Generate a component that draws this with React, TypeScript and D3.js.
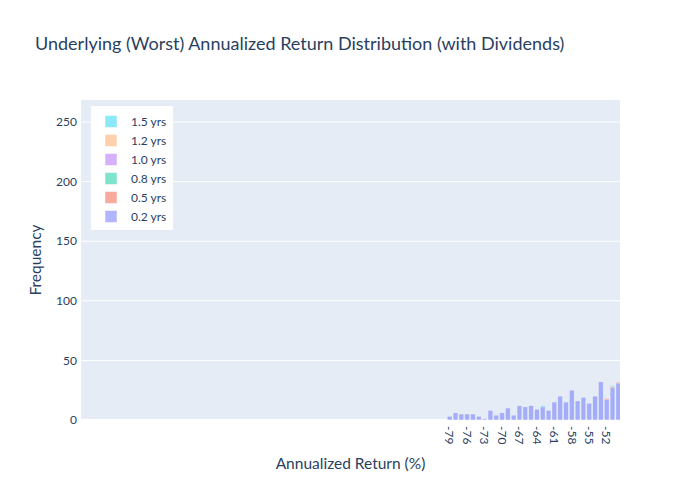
import * as d3 from 'd3';

// histogram bins (centre of each 1-point bin, annualized return %)
const bins = [-79, -78, -77, -76, -75, -74, -73, -72, -71, -70, -69, -68, -67, -66, -65,
  -64, -63, -62, -61, -60, -59, -58, -57, -56, -55, -54, -53, -52, -51, -50];

// counts per bin for each tenor (stacked, 0.2 yrs at the bottom)
const counts02 = [3, 6, 5, 5, 5, 3, 1, 8, 4, 6, 10, 4, 12, 11, 12, 9, 11, 8, 15, 20, 15, 25, 16, 19, 14, 20, 32, 17, 27, 31];
const counts05 = [0, 0, 0, 0, 0, 0, 0, 0, 0, 0, 0, 0, 0, 0, 0, 0, 0, 0, 0, 0, 0, 0, 0, 0, 0, 0, 0, 1, 1, 0];
const counts08 = [0, 0, 0, 0, 0, 0, 0, 0, 0, 0, 0, 0, 0, 0, 0, 0, 0, 0, 0, 0, 0, 0, 0, 0, 0, 0, 0, 0, 0, 0];
const counts10 = [0, 0, 0, 0, 0, 0, 0, 0, 0, 0, 0, 0, 0, 0, 0, 0, 0, 0, 0, 0, 0, 0, 0, 0, 0, 0, 0, 0, 0, 0];
const counts12 = [0, 0, 0, 0, 0, 0, 0, 0, 0, 0, 0, 0, 0, 0, 0, 0, 0, 0, 0, 0, 0, 0, 0, 0, 0, 0, 0, 0, 0, 1];
const counts15 = [0, 0, 0, 0, 0, 0, 0, 0, 0, 0, 0, 0, 0, 0, 0, 0, 1, 0, 0, 0, 0, 0, 0, 0, 0, 0, 0, 0, 1, 0];

const seriesNames = ['0.2 yrs', '0.5 yrs', '0.8 yrs', '1.0 yrs', '1.2 yrs', '1.5 yrs'];
const seriesColors = ['#636efa', '#ef553b', '#00cc96', '#ab63fa', '#ffa15a', '#19d3f3'];
const seriesCounts = [counts02, counts05, counts08, counts10, counts12, counts15];

const xTicks = [-79, -76, -73, -70, -67, -64, -61, -58, -55, -52];
const yTicks = [0, 50, 100, 150, 200, 250];

const width = 700;
const height = 500;
const margin = { top: 100, right: 80, bottom: 80, left: 81 };
const font = 'Lato, "Open Sans", sans-serif';
const textColor = '#2a3f5f';

export default function App() {
  const innerWidth = width - margin.left - margin.right;
  const innerHeight = height - margin.top - margin.bottom;

  const x = d3.scaleLinear().domain([-142.41, -49.71]).range([0, innerWidth]);
  const y = d3.scaleLinear().domain([0, 268.5]).range([innerHeight, 0]);

  const rows = bins.map((b, i) => {
    const row: Record<string, number> = { bin: b };
    seriesNames.forEach((name, s) => { row[name] = seriesCounts[s][i]; });
    return row;
  });
  const stacked = d3.stack<Record<string, number>>().keys(seriesNames)(rows);

  const bargap = 0.2;
  const barW = x(1) - x(0);

  return (
    <svg width={width} height={height} style={{ position: 'absolute', left: 0, top: 0 }} fontFamily={font}>
      <rect width={width} height={height} fill="#fff" />
      <text x={35} y={50} fontSize={18} fill={textColor}>
        Underlying (Worst) Annualized Return Distribution (with Dividends)
      </text>

      <defs>
        <clipPath id="plot-clip">
          <rect width={innerWidth} height={innerHeight} />
        </clipPath>
      </defs>

      <g transform={`translate(${margin.left},${margin.top})`}>
        <rect width={innerWidth} height={innerHeight} fill="#e5ecf6" />

        {/* horizontal grid */}
        {yTicks.filter(t => t > 0).map(t => (
          <line key={t} x1={0} x2={innerWidth} y1={y(t)} y2={y(t)} stroke="#fff" strokeWidth={1} />
        ))}
        <line x1={0} x2={innerWidth} y1={y(0)} y2={y(0)} stroke="#fff" strokeWidth={2} />

        {/* stacked histogram bars */}
        <g clipPath="url(#plot-clip)">
          {stacked.map((layer, s) => (
            <g key={layer.key} fill={seriesColors[s]} fillOpacity={0.5}>
              {layer.map((d, i) => d[1] - d[0] > 0 ? (
                <rect
                  key={i}
                  x={x(bins[i] - 0.5) + barW * bargap / 2}
                  width={barW * (1 - bargap)}
                  y={y(d[1])}
                  height={y(d[0]) - y(d[1])}
                  stroke="#fff"
                  strokeOpacity={0.5}
                  strokeWidth={0.5}
                />
              ) : null)}
            </g>
          ))}
        </g>

        {/* y tick labels */}
        {yTicks.map(t => (
          <text key={t} x={-4} y={y(t)} dy="0.35em" textAnchor="end" fontSize={12} fill={textColor}>{t}</text>
        ))}

        {/* x tick labels, rotated */}
        {xTicks.map(t => (
          <text key={t} transform={`translate(${x(t)},${innerHeight + 6}) rotate(90)`} dy="0.35em"
            textAnchor="start" fontSize={12} fill={textColor}>{t}</text>
        ))}

        {/* legend */}
        <g transform="translate(10,6)">
          <rect width={82} height={124} fill="#fff" />
          {seriesNames.slice().reverse().map((name, i) => {
            const color = seriesColors[seriesNames.indexOf(name)];
            return (
              <g key={name} transform={`translate(0,${15.5 + i * 19})`}>
                <rect x={14} y={-6} width={12} height={12} fill={color} fillOpacity={0.5} stroke="#fff" strokeWidth={0.5} />
                <text x={40} dy="0.35em" fontSize={12} fill={textColor}>{name}</text>
              </g>
            );
          })}
        </g>
      </g>

      {/* axis titles */}
      <text x={margin.left + innerWidth / 2} y={469} textAnchor="middle" fontSize={15.5} fill={textColor}>
        Annualized Return (%)
      </text>
      <text transform={`translate(41,${margin.top + innerHeight / 2}) rotate(-90)`} textAnchor="middle"
        fontSize={15.5} fill={textColor}>
        Frequency
      </text>
    </svg>
  );
}
